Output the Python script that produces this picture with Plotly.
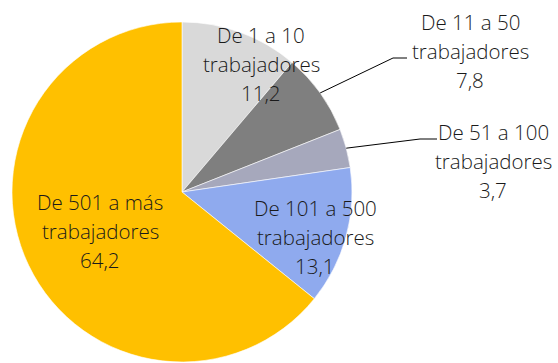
import math
import plotly.graph_objects as go

# Distribution by company size (share of total, %)
categories = ["De 1 a 10 trabajadores", "De 11 a 50 trabajadores", "De 51 a 100 trabajadores",
              "De 101 a 500 trabajadores", "De 501 a más trabajadores"]
label_lines = [["De 1 a 10", "trabajadores"], ["De 11 a 50", "trabajadores"],
               ["De 51 a 100", "trabajadores"], ["De 101 a 500", "trabajadores"],
               ["De 501 a más", "trabajadores"]]
values = [11.2, 7.8, 3.7, 13.1, 64.2]
colors = ["#D9D9D9", "#7F7F7F", "#A6A8BC", "#8FAAEE", "#FFC000"]

W, H = 558, 363
CX, CY, R = 182, 192, 170          # pie centre and radius in pixels
LINE_GAP = 29                      # spacing between label lines in pixels

# label centres (px) and, for outside labels, the elbow of the leader line
label_pos = [(261, 64), (470, 51), (493, 161), (315, 237), (100, 231)]
elbows = [None, ((393, 58), (407, 58)), ((420, 139), (437, 139)), None, None]


def px(x, y):
    return x / W, 1 - y / H


def fmt(v):
    return f"{v:.1f}".replace(".", ",")


fig = go.Figure(go.Pie(
    labels=categories, values=values, sort=False, direction="clockwise", rotation=0,
    marker=dict(colors=colors, line=dict(color="white", width=0.6)),
    textinfo="none", hoverinfo="label+value", showlegend=False,
    domain=dict(x=[(CX - R) / W, (CX + R) / W], y=[1 - (CY + R) / H, 1 - (CY - R) / H]),
))

font = dict(family="Open Sans", size=20.5, color="#1A1A1A", weight=300)
total = sum(values)
cum = 0.0
shapes = []
annotations = []
for lines, v, pos, elbow in zip(label_lines, values, label_pos, elbows):
    mid = (cum + v / 2) / total * 2 * math.pi
    cum += v
    rows = lines + [fmt(v)]
    for i, row in enumerate(rows):
        x, y = px(pos[0], pos[1] + (i - (len(rows) - 1) / 2) * LINE_GAP)
        annotations.append(dict(x=x, y=y, xref="paper", yref="paper", text=row, showarrow=False,
                                font=font, align="center", xanchor="center", yanchor="middle"))
    if elbow:
        sx, sy = CX + R * math.sin(mid), CY - R * math.cos(mid)
        pts = [(sx, sy), elbow[0], elbow[1]]
        path = "M " + " L ".join(f"{px(a, b)[0]},{px(a, b)[1]}" for a, b in pts)
        shapes.append(dict(type="path", path=path, xref="paper", yref="paper",
                           line=dict(color="black", width=1)))

fig.update_layout(
    width=W, height=H, margin=dict(l=0, r=0, t=0, b=0),
    paper_bgcolor="white", plot_bgcolor="white",
    annotations=annotations, shapes=shapes,
)

fig.write_html("out.html")
